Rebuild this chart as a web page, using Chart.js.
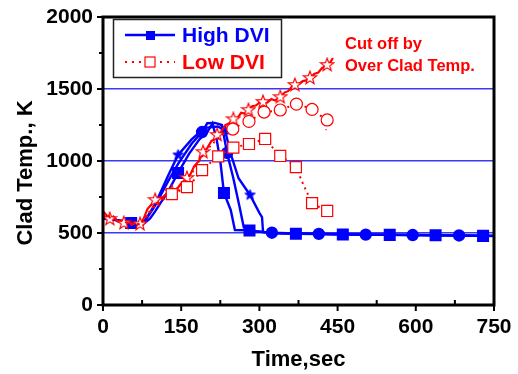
<!DOCTYPE html>
<html><head><meta charset="utf-8">
<script src="https://cdn.jsdelivr.net/npm/chart.js@4"></script>
<style>html,body{margin:0;padding:0;background:#fff}#wrap{width:518px;height:374px}</style>
</head><body><div id="wrap"><canvas id="c" width="518" height="374"></canvas></div>
<script>
// ---- data ----
const xTicks = [0,150,300,450,600,750];
const yTicks = [0,500,1000,1500,2000];

const hiSqT = [0,25,54,75,90,100,125,144,165,185,200,210,218,225,232,245,253,281,324,370,414,460,504,550,594,638,683,729,750];
const hiSqV = [600,590,570,555,600,650,790,917,1050,1150,1200,1262,1150,1000,778,660,521,518,500,495,492,490,488,487,485,484,482,480,480];
const hiSqMarks = [54,144,232,281,370,460,550,638,729];

const hiCiT = [0,25,54,75,100,125,144,170,190,200,215,228,238,250,262,270,280,324,370,414,460,504,550,594,638,683,729,750];
const hiCiV = [610,590,572,555,690,860,980,1120,1201,1262,1265,1250,1056,880,680,540,515,502,497,494,491,489,487,486,484,483,481,480];
const hiCiMarks = [190,238,324,414,504,594,683];

const hiStT = [0,25,54,75,100,125,144,170,195,220,234,245,260,282,300,305,307,324,370,460,550,638,729,750];
const hiStV = [600,590,570,555,700,900,1042,1150,1230,1240,1215,1050,880,764,640,611,507,500,496,491,488,485,481,479];
const hiStMarks = [144,234,282];

const loStT = [0,5,13,20,28,40,48,55,62,71,78,85,92,100,108,115,124,132,140,150,161,168,175,184,192,200,208,214,219,226,235,242,250,258,265,272,279,286,293,300,307,315,323,330,340,348,355,362,368,376,383,390,397,405,413,420,430,436,441];
const loStV = [652,630,597,615,580,569,582,558,570,562,600,665,695,729,745,750,778,785,795,845,882,910,965,1000,1062,1090,1140,1150,1181,1200,1250,1262,1290,1300,1335,1330,1354,1380,1385,1405,1410,1405,1430,1420,1444,1475,1485,1515,1528,1535,1555,1560,1576,1605,1615,1645,1667,1685,1715];
const loStMarks = [13,40,71,100,132,161,192,219,250,279,307,340,368,397,430];

const loCiT = [0,15,30,45,60,72,85,100,115,130,145,160,175,190,205,219,234,249,265,280,295,309,325,340,355,371,386,401,415,430,428];
const loCiV = [640,610,590,572,565,560,630,700,740,775,820,870,940,1030,1100,1150,1200,1222,1255,1275,1310,1340,1345,1354,1375,1395,1380,1358,1320,1285,1215];
const loCiMarks = [249,280,309,340,371,401,430];

const loSqT = [0,15,30,45,60,72,85,100,115,132,145,161,175,190,205,221,235,250,265,280,295,311,325,340,355,370,385,401,415,430];
const loSqV = [620,605,590,575,560,560,620,690,730,770,790,819,870,937,985,1032,1065,1093,1105,1118,1135,1153,1095,1035,1000,958,830,708,680,653];
const loSqMarks = [132,161,190,221,250,280,311,340,370,401,430];

const legendLabels = ['High DVI','Low DVI'];
const noteLines = ['Cut off by','Over Clad Temp.'];
const xTitle = 'Time,sec';
const yTitle = 'Clad Temp., K';

// ---- helpers ----
const pts = (t,v) => t.map((x,i)=>({x, y:v[i]}));
function starImg(size, stroke, fill, lw){
  const c=document.createElement('canvas'); c.width=c.height=size;
  const g=c.getContext('2d'); const cx=size/2, R=size/2-lw, r=R*0.42;
  g.beginPath();
  for(let i=0;i<10;i++){const a=-Math.PI/2+i*Math.PI/5; const rr=i%2?r:R; g.lineTo(cx+rr*Math.cos(a), cx+rr*Math.sin(a));}
  g.closePath(); g.fillStyle=fill; g.fill(); g.lineWidth=lw; g.strokeStyle=stroke; g.stroke(); return c;
}
const BLUE='#0000ff', RED='#ff0000';
const redStar = starImg(16, RED, '#fff', 1.2);
const blueStar = starImg(13, BLUE, BLUE, 1);
const markR = (marks, r) => ctx => (ctx.raw && marks.includes(ctx.raw.x)) ? r : 0;
const FONT = 'Liberation Sans, Arial, Helvetica, sans-serif';

function ds(t,v,marks,color,style,r,opts){
  return Object.assign({data:pts(t,v), showLine:true, borderColor:color, backgroundColor:color,
    pointBorderColor:color, pointBackgroundColor:color, pointStyle:style, pointRadius:markR(marks,r),
    pointHoverRadius:markR(marks,r), borderWidth:2.2, tension:0}, opts||{});
}

const datasets = [
  ds(loSqT,loSqV,loSqMarks,RED,'rect',7.8,{borderDash:[2,4],borderWidth:2,pointBackgroundColor:'#fff',pointBorderWidth:1.2}),
  ds(loCiT,loCiV,loCiMarks,RED,'circle',6,{borderDash:[2,4],borderWidth:2,pointBackgroundColor:'#fff',pointBorderWidth:1.2}),
  ds(loStT,loStV,loStMarks,RED,redStar,7,{borderWidth:2.2}),
  ds(hiCiT,hiCiV,hiCiMarks,BLUE,'circle',5,{borderWidth:2.4}),
  ds(hiStT,hiStV,hiStMarks,BLUE,blueStar,6,{borderWidth:2.4}),
  ds(hiSqT,hiSqV,hiSqMarks,BLUE,'rect',6.8,{borderWidth:2.4}),
];

const deco = {
  id:'deco',
  afterDraw(chart){
    const g=chart.ctx, a=chart.chartArea, xs=chart.scales.x, ys=chart.scales.y;
    g.save();
    // frame
    g.strokeStyle='#000'; g.lineWidth=3;
    g.strokeRect(a.left, a.top, a.right-a.left, a.bottom-a.top);
    // ticks
    g.lineWidth=2;
    g.beginPath();
    for(let v=0; v<=2000; v+=250){ const y=ys.getPixelForValue(v); const len = v%500===0?6:4; g.moveTo(a.left-len,y); g.lineTo(a.left,y); }
    for(let v=0; v<=750; v+=75){ const x=xs.getPixelForValue(v); if(v%150===0){g.moveTo(x,a.bottom); g.lineTo(x,a.bottom+6);} else {g.moveTo(x,a.bottom); g.lineTo(x,a.bottom-5);} }
    g.stroke();
    // axis titles
    g.fillStyle='#000'; g.font='bold 22px '+FONT; g.textAlign='center'; g.textBaseline='middle';
    g.fillText(xTitle, (a.left+a.right)/2, 360);
    g.save(); g.translate(26, 173); g.rotate(-Math.PI/2); g.fillText(yTitle,0,0); g.restore();
    // legend
    g.lineWidth=1.5; g.strokeStyle='#222'; g.strokeRect(113.5,19.5,168,58);
    g.lineWidth=2.4; g.strokeStyle=BLUE; g.beginPath(); g.moveTo(125,35); g.lineTo(175,35); g.stroke();
    g.fillStyle=BLUE; g.fillRect(146,31,9,9);
    g.strokeStyle=RED; g.lineWidth=2; g.setLineDash([2,5]); g.beginPath(); g.moveTo(125,62); g.lineTo(175,62); g.stroke(); g.setLineDash([]);
    g.fillStyle='#fff'; g.fillRect(145,57,10,10); g.lineWidth=1.2; g.strokeRect(145,57,10,10);
    g.font='bold 21px '+FONT; g.textAlign='left';
    g.fillStyle=BLUE; g.fillText(legendLabels[0], 182, 36);
    g.fillStyle=RED; g.fillText(legendLabels[1], 182, 63);
    // note
    g.font='bold 16.5px '+FONT; g.fillStyle=RED;
    g.fillText(noteLines[0], 345, 44); g.fillText(noteLines[1], 345, 66);
    g.restore();
  }
};

new Chart(document.getElementById('c'), {
  type:'scatter',
  data:{datasets},
  options:{
    responsive:false, animation:false, devicePixelRatio:1,
    layout:{padding:{top:17,right:24,left:0,bottom:0}},
    plugins:{legend:{display:false}, tooltip:{enabled:false}},
    scales:{
      x:{type:'linear', min:0, max:750, afterBuildTicks:s=>{s.ticks=xTicks.map(v=>({value:v}));},
        afterFit:s=>{s.height=69; s.paddingLeft=0; s.paddingRight=0;},
        grid:{display:false, drawTicks:false}, border:{display:false},
        ticks:{padding:10, color:'#000', font:{family:FONT, weight:'bold', size:21}, maxRotation:0, callback:v=>String(v)}},
      y:{type:'linear', min:0, max:2000, afterBuildTicks:s=>{s.ticks=yTicks.map(v=>({value:v}));},
        afterFit:s=>{s.width=103; s.paddingTop=0; s.paddingBottom=0;},
        grid:{drawTicks:false, lineWidth:1.5, color:c=> (c.tick && (c.tick.value===0||c.tick.value===2000))?'rgba(0,0,0,0)':'#3a3af0'},
        border:{display:false},
        ticks:{padding:10, color:'#000', font:{family:FONT, weight:'bold', size:21}, callback:v=>String(v)}}
    }
  },
  plugins:[deco]
});
</script></body></html>
